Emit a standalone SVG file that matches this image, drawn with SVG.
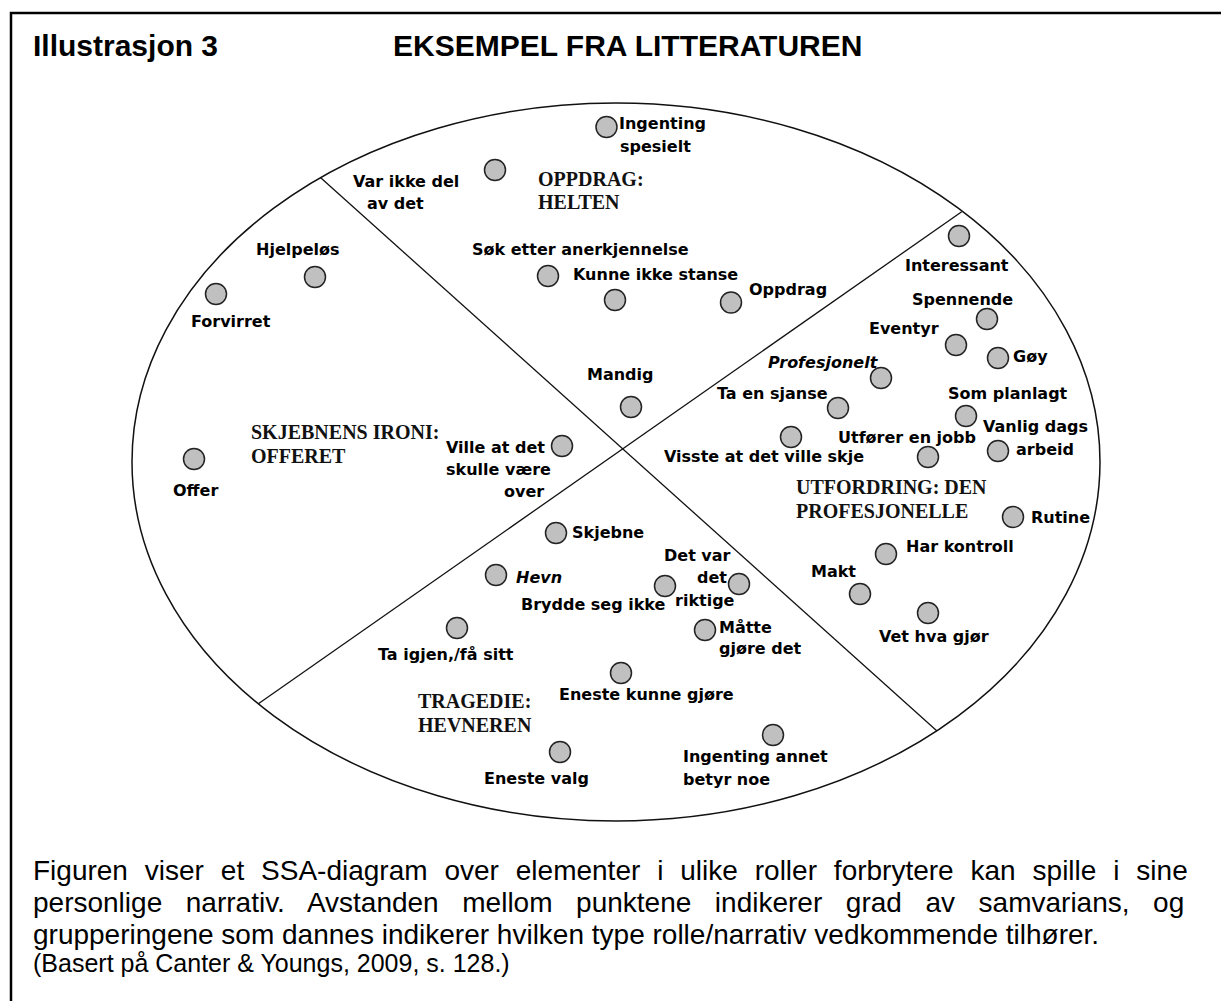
<svg xmlns="http://www.w3.org/2000/svg" width="1221" height="1001" viewBox="0 0 1221 1001">
<style>
.lbl{font-family:"DejaVu Sans","Liberation Sans",sans-serif;font-weight:bold;font-size:16px;fill:#000}
.it{font-style:italic}
.head{font-family:"Liberation Serif","Times New Roman",serif;font-weight:bold;font-size:20px;fill:#111}
.pt{fill:#c0c0c0;stroke:#222;stroke-width:1.5}
.title{font-family:"Liberation Sans",Arial,sans-serif;font-weight:bold;font-size:30px;fill:#000}
.cap{font-family:"Liberation Sans",Arial,sans-serif;font-size:28px;fill:#000}
.ref{font-family:"Liberation Sans",Arial,sans-serif;font-size:25px;fill:#000}
.edge{stroke:#111;stroke-width:1.3;fill:none}
</style>
<rect width="1221" height="1001" fill="#fff"/>
<path d="M11,1001 V13 H1221" fill="none" stroke="#000" stroke-width="2.5"/>
<text class="title" x="33" y="56">Illustrasjon 3</text>
<text class="title" x="393" y="56">EKSEMPEL FRA LITTERATUREN</text>

<ellipse id="ssa-boundary" cx="616" cy="462" rx="484" ry="359" fill="none" stroke="#111" stroke-width="1.5"/>

<g id="connectors">
<line class="edge" x1="320.7" y1="177.7" x2="937" y2="731"/>
<line class="edge" x1="961.7" y1="211.7" x2="258" y2="704"/>
</g>

<g id="regions">
<text class="head" x="538" y="186">OPPDRAG:</text>
<text class="head" x="538" y="209">HELTEN</text>
<text class="head" x="251" y="439">SKJEBNENS IRONI:</text>
<text class="head" x="251" y="463">OFFERET</text>
<text class="head" x="796" y="494">UTFORDRING: DEN</text>
<text class="head" x="796" y="518">PROFESJONELLE</text>
<text class="head" x="418" y="708">TRAGEDIE:</text>
<text class="head" x="418" y="732">HEVNEREN</text>
</g>

<g id="n-ingenting-spesielt"><circle class="pt" cx="606.5" cy="127" r="10.5"/><text class="lbl" x="619" y="129">Ingenting</text><text class="lbl" x="620" y="152">spesielt</text></g>
<g id="n-var-ikke-del"><circle class="pt" cx="495" cy="170" r="10.5"/><text class="lbl" x="353" y="187">Var ikke del</text><text class="lbl" x="367" y="209">av det</text></g>
<g id="n-sok-etter"><circle class="pt" cx="548" cy="276" r="10.5"/><text class="lbl" x="472" y="255">Søk etter anerkjennelse</text></g>
<g id="n-kunne-ikke-stanse"><circle class="pt" cx="615" cy="300" r="10.5"/><text class="lbl" x="573" y="280">Kunne ikke stanse</text></g>
<g id="n-oppdrag"><circle class="pt" cx="731" cy="302.5" r="10.5"/><text class="lbl" x="749" y="295">Oppdrag</text></g>
<g id="n-mandig"><circle class="pt" cx="631" cy="407" r="10.5"/><text class="lbl" x="587" y="380">Mandig</text></g>
<g id="n-hjelpelos"><circle class="pt" cx="315" cy="277" r="10.5"/><text class="lbl" x="256" y="255">Hjelpeløs</text></g>
<g id="n-forvirret"><circle class="pt" cx="216" cy="294" r="10.5"/><text class="lbl" x="191" y="327">Forvirret</text></g>
<g id="n-offer"><circle class="pt" cx="194" cy="459" r="10.5"/><text class="lbl" x="173" y="496">Offer</text></g>
<g id="n-ville"><circle class="pt" cx="562" cy="446" r="10.5"/><text class="lbl" x="446" y="453">Ville at det</text><text class="lbl" x="446" y="475">skulle være</text><text class="lbl" x="504" y="497">over</text></g>
<g id="n-interessant"><circle class="pt" cx="959" cy="236" r="10.5"/><text class="lbl" x="905" y="271">Interessant</text></g>
<g id="n-spennende"><circle class="pt" cx="987" cy="319" r="10.5"/><text class="lbl" x="912" y="305">Spennende</text></g>
<g id="n-eventyr"><circle class="pt" cx="956" cy="345" r="10.5"/><text class="lbl" x="869" y="334">Eventyr</text></g>
<g id="n-goy"><circle class="pt" cx="998" cy="358" r="10.5"/><text class="lbl" x="1013" y="362">Gøy</text></g>
<g id="n-profesjonelt"><circle class="pt" cx="881" cy="378" r="10.5"/><text class="lbl it" x="768" y="368">Profesjonelt</text></g>
<g id="n-ta-en-sjanse"><circle class="pt" cx="838" cy="408" r="10.5"/><text class="lbl" x="717" y="399">Ta en sjanse</text></g>
<g id="n-som-planlagt"><circle class="pt" cx="966" cy="416" r="10.5"/><text class="lbl" x="948" y="399">Som planlagt</text></g>
<g id="n-vanlig-dags-arbeid"><circle class="pt" cx="998" cy="451" r="10.5"/><text class="lbl" x="983" y="432">Vanlig dags</text><text class="lbl" x="1016" y="455">arbeid</text></g>
<g id="n-visste"><circle class="pt" cx="791" cy="437" r="10.5"/><text class="lbl" x="664" y="462">Visste at det ville skje</text></g>
<g id="n-utforer"><circle class="pt" cx="928" cy="457" r="10.5"/><text class="lbl" x="838" y="443">Utfører en jobb</text></g>
<g id="n-rutine"><circle class="pt" cx="1013" cy="517" r="10.5"/><text class="lbl" x="1031" y="523">Rutine</text></g>
<g id="n-har-kontroll"><circle class="pt" cx="886" cy="554" r="10.5"/><text class="lbl" x="906" y="552">Har kontroll</text></g>
<g id="n-makt"><circle class="pt" cx="860" cy="594" r="10.5"/><text class="lbl" x="811" y="577">Makt</text></g>
<g id="n-vet-hva"><circle class="pt" cx="928" cy="613" r="10.5"/><text class="lbl" x="879" y="642">Vet hva gjør</text></g>
<g id="n-skjebne"><circle class="pt" cx="556" cy="533" r="10.5"/><text class="lbl" x="572" y="538">Skjebne</text></g>
<g id="n-hevn"><circle class="pt" cx="496" cy="575" r="10.5"/><text class="lbl it" x="516" y="583">Hevn</text></g>
<g id="n-brydde"><circle class="pt" cx="665" cy="586" r="10.5"/><text class="lbl" x="521" y="610">Brydde seg ikke</text></g>
<g id="n-det-var-riktige"><circle class="pt" cx="739" cy="584" r="10.5"/><text class="lbl" x="664" y="561">Det var</text><text class="lbl" x="697" y="583">det</text><text class="lbl" x="675" y="606">riktige</text></g>
<g id="n-matte"><circle class="pt" cx="705" cy="630" r="10.5"/><text class="lbl" x="719" y="633">Måtte</text><text class="lbl" x="719" y="654">gjøre det</text></g>
<g id="n-ta-igjen"><circle class="pt" cx="457" cy="628" r="10.5"/><text class="lbl" x="378" y="660">Ta igjen,/få sitt</text></g>
<g id="n-eneste-kunne"><circle class="pt" cx="621" cy="673" r="10.5"/><text class="lbl" x="559" y="700">Eneste kunne gjøre</text></g>
<g id="n-eneste-valg"><circle class="pt" cx="560" cy="752" r="10.5"/><text class="lbl" x="484" y="784">Eneste valg</text></g>
<g id="n-ingenting-annet"><circle class="pt" cx="773" cy="735" r="10.5"/><text class="lbl" x="683" y="762">Ingenting annet</text><text class="lbl" x="683" y="785">betyr noe</text></g>

<g id="caption">
<text class="cap" x="33" y="880" word-spacing="9.1">Figuren viser et SSA-diagram over elementer i ulike roller forbrytere kan spille i sine</text>
<text class="cap" x="33" y="912" word-spacing="15.8">personlige narrativ. Avstanden mellom punktene indikerer grad av samvarians, og</text>
<text class="cap" x="33" y="944">grupperingene som dannes indikerer hvilken type rolle/narrativ vedkommende tilhører.</text>
<text class="ref" x="33" y="972">(Basert på Canter &amp; Youngs, 2009, s. 128.)</text>
</g>
</svg>
